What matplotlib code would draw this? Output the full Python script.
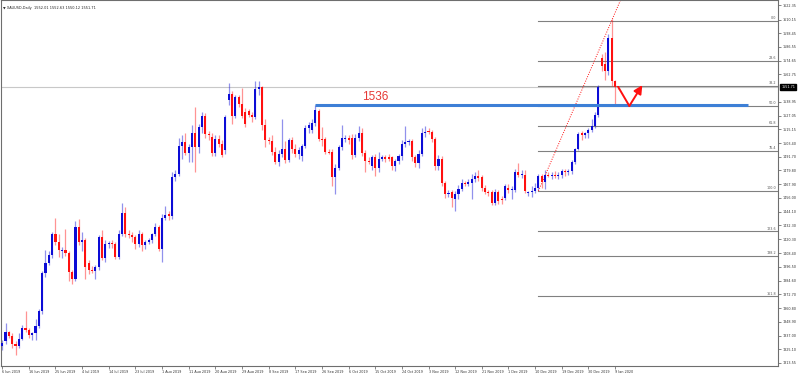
import matplotlib
matplotlib.use("Agg")
import matplotlib.pyplot as plt
import numpy as np

# ---------------- data ----------------
opens = [1328,1332,1340,1337,1330,1328,1334,1344,1342,1338,1339,1345,1358,1391,1400,1407,1425,1418,1410,1411,
         1408,1392,1386,1431,1418,1420,1400,1394,1393,1396,1422,1404,1416,1417,1416,1405,1425,1443,1425,1424,
         1422,1416,1425,1415,1418,1420,1425,1431,1412,1439,1442,1440,1474,1477,1501,1504,1495,1500,1512,1500,
         1517,1527,1511,1509,1495,1507,1503,1497,1541,1546,1527,1543,1537,1530,1531,1528,1526,1550,1552,1519,
         1506,1505,1496,1487,1494,1498,1489,1506,1498,1494,1492,1501,1516,1515,1521,1531,1507,1507,1496,1496,
         1474,1482,1500,1507,1508,1508,1493,1508,1512,1495,1488,1484,1491,1482,1490,1491,1491,1491,1484,1488,
         1492,1503,1504,1505,1491,1486,1494,1512,1514,1513,1507,1484,1490,1469,1459,1461,1455,1459,1464,1469,
         1468,1469,1472,1475,1474,1465,1461,1461,1452,1461,1455,1456,1465,1463,1463,1478,1476,1476,1460,1461,
         1462,1465,1475,1470,1476,1475,1476,1475,1476,1479,1478,1479,1487,1498,1512,1510,1512,1515,1518,1528,
         1577,1572,1566,1594,1557,1552.01]
highs = [1333,1348,1341,1339,1332,1339,1346,1358,1344,1340,1351,1360,1393,1411,1410,1427,1439,1425,1414,1429,
         1410,1394,1436,1438,1427,1421,1402,1397,1398,1424,1428,1420,1419,1420,1418,1428,1452,1448,1428,1427,
         1424,1428,1427,1420,1421,1426,1434,1433,1442,1449,1445,1478,1480,1508,1510,1512,1503,1519,1535,1520,
         1530,1529,1514,1512,1510,1510,1506,1528,1555,1548,1545,1545,1551,1534,1533,1530,1557,1557,1553,1524,
         1509,1510,1500,1497,1524,1505,1508,1509,1503,1500,1503,1519,1522,1524,1536,1533,1517,1509,1498,1498,
         1485,1502,1519,1510,1510,1511,1511,1518,1516,1497,1491,1493,1494,1496,1493,1493,1494,1492,1490,1494,
         1506,1518,1507,1507,1493,1497,1516,1518,1516,1515,1509,1493,1492,1471,1463,1463,1462,1467,1472,1471,
         1472,1477,1478,1480,1476,1467,1463,1463,1464,1463,1458,1468,1468,1466,1481,1486,1480,1480,1462,1466,
         1469,1477,1477,1480,1478,1478,1479,1478,1481,1481,1481,1489,1499,1513,1514,1513,1516,1524,1530,1554,
         1580,1582,1598,1611,1558,1552.63]
lows = [1325,1330,1335,1326,1320,1326,1333,1340,1335,1333,1333,1344,1356,1388,1398,1404,1415,1405,1404,1406,
        1384,1382,1384,1415,1410,1386,1390,1391,1386,1394,1402,1401,1413,1413,1403,1403,1423,1422,1421,1418,
        1412,1414,1410,1412,1416,1417,1423,1410,1401,1437,1437,1438,1471,1475,1490,1493,1487,1487,1478,1495,
        1512,1508,1506,1492,1492,1500,1491,1494,1536,1520,1525,1535,1525,1517,1526,1522,1524,1545,1515,1500,
        1503,1493,1485,1484,1491,1486,1487,1495,1491,1490,1488,1499,1512,1512,1518,1505,1501,1494,1494,1466,
        1459,1480,1497,1504,1503,1490,1491,1505,1492,1478,1485,1480,1475,1478,1488,1487,1488,1480,1479,1485,
        1489,1500,1502,1488,1483,1482,1492,1509,1511,1504,1480,1480,1466,1456,1457,1448,1445,1455,1462,1466,
        1466,1455,1470,1471,1462,1459,1458,1450,1450,1451,1451,1454,1460,1455,1461,1474,1473,1460,1458,1457,
        1460,1463,1465,1464,1474,1472,1473,1472,1473,1475,1476,1477,1485,1497,1506,1508,1508,1513,1516,1526,
        1566,1558,1562,1553,1537,1550.12]
closes = [1331,1340,1337,1330,1328,1334,1344,1342,1338,1339,1345,1358,1391,1400,1407,1425,1418,1411,1411,1408,
          1392,1386,1431,1418,1420,1396,1394,1393,1396,1422,1404,1416,1417,1416,1405,1425,1443,1425,1424,1422,
          1416,1425,1415,1418,1420,1425,1431,1412,1439,1441,1440,1474,1477,1501,1504,1495,1500,1512,1500,1517,
          1527,1511,1510,1495,1507,1503,1493,1526,1546,1527,1543,1537,1527,1520,1528,1526,1550,1552,1519,1506,
          1505,1496,1487,1494,1498,1489,1506,1498,1494,1497,1501,1516,1519,1521,1532,1507,1506,1496,1495,1474,
          1482,1500,1508,1508,1506,1493,1508,1512,1495,1488,1487,1491,1482,1490,1491,1490,1490,1484,1488,1492,
          1503,1504,1505,1491,1486,1494,1512,1513,1513,1507,1484,1490,1469,1459,1460,1456,1459,1464,1469,1468,
          1470,1472,1475,1473,1465,1461,1460,1452,1461,1453,1454,1466,1463,1464,1478,1476,1477,1462,1461,1462,
          1465,1475,1470,1476,1475,1476,1475,1476,1479,1478,1479,1487,1498,1511,1510,1512,1515,1518,1528,1552,
          1570,1566,1594,1557,1552,1551.71]

date_labels = ["6 Jun 2019", "16 Jun 2019", "25 Jun 2019", "4 Jul 2019", "14 Jul 2019", "23 Jul 2019",
               "1 Aug 2019", "11 Aug 2019", "20 Aug 2019", "29 Aug 2019", "8 Sep 2019", "17 Sep 2019",
               "26 Sep 2019", "6 Oct 2019", "15 Oct 2019", "24 Oct 2019", "3 Nov 2019", "12 Nov 2019",
               "21 Nov 2019", "1 Dec 2019", "10 Dec 2019", "19 Dec 2019", "30 Dec 2019", "9 Jan 2020"]
date_label_bars = [0, 8, 16, 24, 32, 40, 48, 56, 64, 72, 80, 88, 96, 104, 112, 120, 128, 136, 144, 152,
                   160, 168, 176, 184]

price_ticks = [1622.35, 1610.15, 1598.45, 1586.55, 1574.65, 1562.75, 1538.95, 1527.05, 1515.15, 1503.40,
               1491.70, 1479.80, 1467.90, 1456.00, 1444.10, 1432.30, 1420.30, 1408.40, 1396.50, 1384.60,
               1372.70, 1360.80, 1348.90, 1337.00, 1325.10, 1313.55]

fib_levels = [0.0, 23.6, 38.2, 50.0, 61.8, 76.4, 100.0, 123.6, 138.2, 161.8]
fib_low_bar, fib_low = 161, 1462.0
fib_high_bar, fib_high = 183, 1609.2

level_price = 1536.0
level_text = "1536"
level_start_bar, level_end_bar = 94, 224

current_price = 1551.71
title_text = "XAUUSD,Daily  1552.01 1552.63 1550.12 1551.71"

arrow_bars = [185, 188.3, 192.2]
arrow_prices = [1551.7, 1535.5, 1553.5]

# ---------------- figure ----------------
fig = plt.figure(figsize=(8.0, 3.73), dpi=100)
ax = fig.add_axes([0.0015, 7/373, 777/800, 1 - 7/373 - 0.001])

BLUE = "#0c0cd6"
RED = "#ff1010"

x = np.arange(len(closes))
o = np.array(opens, float); c = np.array(closes, float)
h = np.array(highs, float); l = np.array(lows, float)
up = c >= o
cols = np.where(up, BLUE, RED)

ax.vlines(x, l, h, colors=cols, lw=0.9, alpha=0.45, zorder=2)
body = np.where(np.abs(c - o) < 0.8, 0.8, np.abs(c - o))
ax.bar(x, body, bottom=np.minimum(o, c), width=0.62, color=cols, linewidth=0, zorder=3)

# current price line
ax.axhline(current_price, color="#c8c8c8", lw=0.8, zorder=1)

# fibonacci
xmax = 233.0
for lv in fib_levels:
    p = fib_high - lv / 100.0 * (fib_high - fib_low)
    ax.plot([fib_low_bar, xmax], [p, p], color="#808080", lw=0.8, zorder=1.5)
    ax.text(xmax - 0.6, p + 0.6, f"{lv:.1f}", fontsize=2.4, color="#555555",
            ha="right", va="bottom", zorder=4)

# dotted trend (fib anchor) line, extended upward
slope = (fib_high - fib_low) / (fib_high_bar - fib_low_bar)
x_end = fib_high_bar + 6
ax.plot([fib_low_bar, x_end], [fib_low, fib_high + slope * (x_end - fib_high_bar)],
        color=RED, lw=0.7, ls=(0, (1, 1.5)), zorder=2.5)

# 1536 level
ax.plot([level_start_bar, level_end_bar], [level_price, level_price], color="#3d7fd6", lw=2.2,
        solid_capstyle="butt", zorder=4)
ax.text(108, level_price + 7.2, level_text, color="#e53935", fontsize=8.5,
        family="Liberation Sans", ha="left", va="center", zorder=5)

# red path arrow
ax.plot(arrow_bars[:2], arrow_prices[:2], color=RED, lw=1.4, zorder=5, solid_capstyle="round")
ax.annotate("", xy=(arrow_bars[2], arrow_prices[2]), xytext=(arrow_bars[1], arrow_prices[1]),
            arrowprops=dict(arrowstyle="-|>,head_length=0.5,head_width=0.25", color=RED, lw=1.4,
                            shrinkA=0, shrinkB=0), zorder=5)

ax.set_xlim(-0.3, xmax)
ax.set_ylim(1310.8, 1626.7)

# axes styling
for s in ax.spines.values():
    s.set_color("#6e6e6e")
    s.set_linewidth(0.8)
ax.yaxis.tick_right()
ax.set_yticks(price_ticks)
ax.set_yticklabels([f"{v:.2f}" for v in price_ticks], fontsize=2.4, color="#333333")
ax.tick_params(axis="y", length=2, width=0.5, pad=1, colors="#555555", labelcolor="#333333")
ax.set_xticks(date_label_bars)
ax.set_xticklabels(date_labels, fontsize=2.4, ha="left", color="#333333")
ax.tick_params(axis="x", length=2, width=0.5, pad=0.8, colors="#555555", labelcolor="#333333")

# current price box
ax.text(1.004, (current_price - 1310.8) / (1626.7 - 1310.8), f"{current_price:.2f}",
        transform=ax.transAxes, fontsize=2.4, color="white", ha="left", va="center",
        bbox=dict(boxstyle="square,pad=0.25", fc="black", ec="black"), clip_on=False, zorder=6)

# title
fig.text(0.004, 0.985, "\u25bc " + title_text, fontsize=2.5, color="#222222", ha="left", va="top")

fig.savefig("out.png", dpi=100, facecolor="white")
